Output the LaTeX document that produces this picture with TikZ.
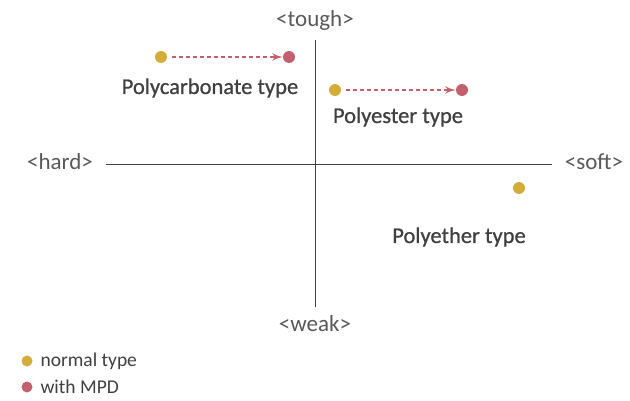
\documentclass[tikz,border=0pt]{standalone}
\usepackage{fontspec}
\setmainfont{Carlito}
\newfontfamily\kindfont[FakeBold=0.8]{Carlito}
\usetikzlibrary{arrows}
\usetikzlibrary{decorations.markings}
\definecolor{normalc}{HTML}{D4AC3A}
\definecolor{mpdc}{HTML}{C2606D}
\definecolor{axisc}{HTML}{404040}
\definecolor{labc}{HTML}{595959}
\tikzset{dotn/.style = {fill=normalc, circle, inner sep = 0, minimum size = 12}}
\tikzset{dotm/.style = {fill=mpdc, circle, inner sep = 0, minimum size = 12}}
\tikzset{mpdshift/.style = {mpdc, line width = 1.8, dash pattern = on 4 off 3,
                            shorten < = 5, shorten > = 7,
                            decoration={markings,
                                        mark=at position 1 with {\arrow[solid, scale=1.3]{latex'}}},
                            postaction={decorate}}}
\tikzset{axlab/.style = {text=labc, font=\fontsize{23}{25}\selectfont}}
\tikzset{kind/.style = {text=axisc, font=\kindfont\fontsize{22.5}{25}\selectfont}}
\tikzset{leg/.style = {text=axisc, font=\fontsize{19.5}{21}\selectfont, anchor=west}}

\begin{document}
\begin{tikzpicture}[x=1pt, y=-1pt]
    \useasboundingbox (0, 0) rectangle (630, 401);

    % axes
    \node [axlab] (tough) at (315, 20) {<tough>};
    \node [axlab] (weak) at (315, 324) {<weak>};
    \node [axlab] (hard) at (60, 162) {<hard>};
    \node [axlab] (soft) at (594, 162) {<soft>};
    \coordinate (top) at (315, 40);
    \coordinate (bot) at (315, 307);
    \coordinate (lft) at (106, 164);
    \coordinate (rgt) at (552, 164);
    \draw [axisc, line width = 0.9] (top) -- (bot);
    \draw [axisc, line width = 0.9] (lft) -- (rgt);

    % polycarbonate
    \node [dotn] (pcn) at (161, 57) {};
    \node [dotm] (pcm) at (289, 57) {};
    \draw [mpdshift] (pcn) -- (pcm);
    \node [kind] (pc) at (210, 88) {Polycarbonate type};

    % polyester
    \node [dotn] (pen) at (335, 90) {};
    \node [dotm] (pem) at (462, 90) {};
    \draw [mpdshift] (pen) -- (pem);
    \node [kind] (pe) at (398, 117) {Polyester type};

    % polyether
    \node [dotn] (ptn) at (519, 188) {};
    \node [kind] (pt) at (459, 237) {Polyether type};

    % legend
    \node [dotn, minimum size = 11] (ln) at (27, 361) {};
    \node [leg] at (37, 361) {normal type};
    \node [dotm, minimum size = 11] (lm) at (27, 387) {};
    \node [leg] at (37, 387) {with MPD};
  \end{tikzpicture}
\end{document}
